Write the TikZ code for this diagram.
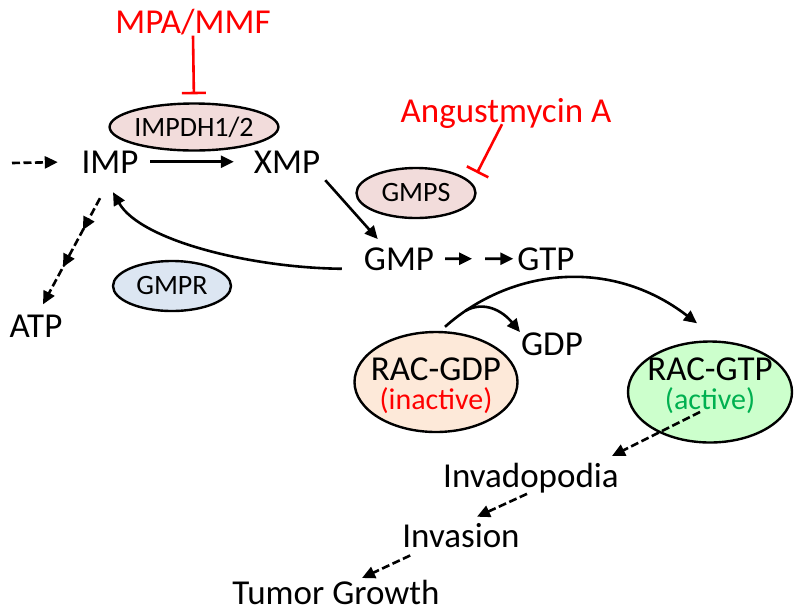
\documentclass[tikz,border=0pt]{standalone}
\usepackage{fontspec}
\setmainfont{Carlito}
\usetikzlibrary{
    shapes.geometric,
    arrows.meta,
    positioning,
    calc,
    decorations.markings
}
\definecolor{pinkfill}{HTML}{F2DCDB}
\definecolor{bluefill}{HTML}{DCE6F2}
\definecolor{gdpfill}{HTML}{FDE9D9}
\definecolor{gtpfill}{HTML}{CCFFCC}
\definecolor{activegreen}{HTML}{00B050}

\begin{document}
\begin{tikzpicture}[
    x=1pt, y=-1pt,
    met/.style={anchor=base, inner sep=4pt, font=\fontsize{35}{42}\selectfont},
    drug/.style={met, text=red},
    enzyme/.style={ellipse, draw=black, line width=2.4pt, inner sep=0pt,
                   font=\fontsize{28}{34}\selectfont},
    rac/.style={ellipse, draw=black, line width=2.4pt, inner sep=0pt,
                minimum width=163pt, minimum height=100pt},
    ractext/.style={align=center, inner sep=0pt, font=\fontsize{35}{29}\selectfont},
    arrow/.style={-{Triangle[length=13pt,width=12pt]}, line width=2.6pt},
    dasharrow/.style={arrow, dash pattern=on 8pt off 3.5pt},
    midarrows/.style={postaction={decorate}, decoration={markings,
        mark=at position 0.3 with {\arrow{Triangle[length=13pt,width=12pt]}},
        mark=at position 0.65 with {\arrow{Triangle[length=13pt,width=12pt]}}}},
    block/.style={-{Bar[width=24pt]}, draw=red, line width=2.6pt}
]
    \useasboundingbox (0,0) rectangle (800,614);

    % Purine pathway
    \node (mpa) [drug] at (193,33) {MPA/MMF};
    \node (impdh) [enzyme, fill=pinkfill, minimum width=162pt, minimum height=47pt] at (194,127) {IMPDH1/2};
    \node (imp) [met] at (110,173) {IMP};
    \node (xmp) [met] at (287,173) {XMP};
    \node (angu) [drug] at (506,122) {Angustmycin A};
    \node (gmps) [enzyme, fill=pinkfill, minimum width=119pt, minimum height=50pt] at (416,193) {GMPS};
    \node (gmp) [met] at (399,270) {GMP};
    \node (gtp) [met] at (546,270) {GTP};
    \node (gmpr) [enzyme, fill=bluefill, minimum width=118pt, minimum height=50pt] at (172,286) {GMPR};
    \node (atp) [met] at (36,337) {ATP};
    \coordinate (impin) at (12,163);
    \coordinate (gmid) at ($(gmp.east)!0.5!(gtp.west)$);

    % RAC switch and outcome
    \node (rgdp) [rac, fill=gdpfill,
        label={[ractext, yshift=-4pt]center:RAC-GDP\\{\fontsize{30}{29}\selectfont\color{red}(inactive)}}] at (436,382) {};
    \node (gdp) [met] at (552,355) {GDP};
    \node (rgtp) [rac, fill=gtpfill, minimum width=164pt, minimum height=101pt,
        label={[ractext, yshift=6pt]center:RAC-GTP\\{\fontsize{30}{29}\selectfont\color{activegreen}(active)}}] at (710,392) {};
    \node (invado) [met] at (531,487) {Invadopodia};
    \node (invasion) [met] at (461,547) {Invasion};
    \node (tumor) [met] at (336,604) {Tumor Growth};

    % Inhibitors
    \draw [block, shorten >=8pt] ([yshift=3pt]mpa.south) -- (impdh.north);
    \draw [block] ([xshift=-4pt,yshift=8pt]angu.south) -- ([xshift=61pt,yshift=20pt]gmps.center);

    % Conversions
    \draw [dasharrow, shorten >=19.6pt] (impin) -- (imp.west);
    \draw [arrow, shorten <=7.6pt, shorten >=15.9pt] (imp.east) -- (xmp.west);
    \draw [arrow] ([xshift=1pt,yshift=-3pt]xmp.south east) -- ([xshift=18pt,yshift=4pt]gmp.north west);
    \draw [arrow, shorten <=7pt, shorten >=3.7pt] (gmp.east) -- (gmid);
    \draw [arrow, shorten <=9.3pt] (gmid) -- (gtp.west);
    \draw [arrow] ([xshift=-18pt,yshift=-10pt]gmp.west)
        .. controls +(-92,-1) and +(27,48) .. ([xshift=3pt,yshift=-15pt]imp.south);
    \draw [dasharrow, midarrows] ([xshift=-10pt,yshift=-21pt]imp.south) -- ([xshift=7pt,yshift=6pt]atp.north);

    % GTP loading
    \draw [arrow] ([xshift=9pt,yshift=4pt]rgdp.north)
        .. controls +(65,-58) and +(-87,-67) .. ([xshift=-13pt,yshift=17pt]rgtp.north)
        coordinate[pos=0.1] (gdpfork);
    \draw [arrow] (gdpfork) .. controls +(18,-10) and +(-18,-22) .. ([xshift=3pt,yshift=-4pt]gdp.north west);

    % Downstream effects
    \draw [dasharrow] ([xshift=-10pt,yshift=-20pt]rgtp.center) -- ([xshift=-11pt,yshift=2.5pt]invado.north east);
    \draw [dasharrow] ([xshift=-4pt,yshift=3pt]invado.south) -- ([xshift=16pt,yshift=2pt]invasion.north);
    \draw [dasharrow] ([xshift=12pt,yshift=-4pt]invasion.south west) -- ([xshift=26pt,yshift=-2.5pt]tumor.north);

\end{tikzpicture}
\end{document}
